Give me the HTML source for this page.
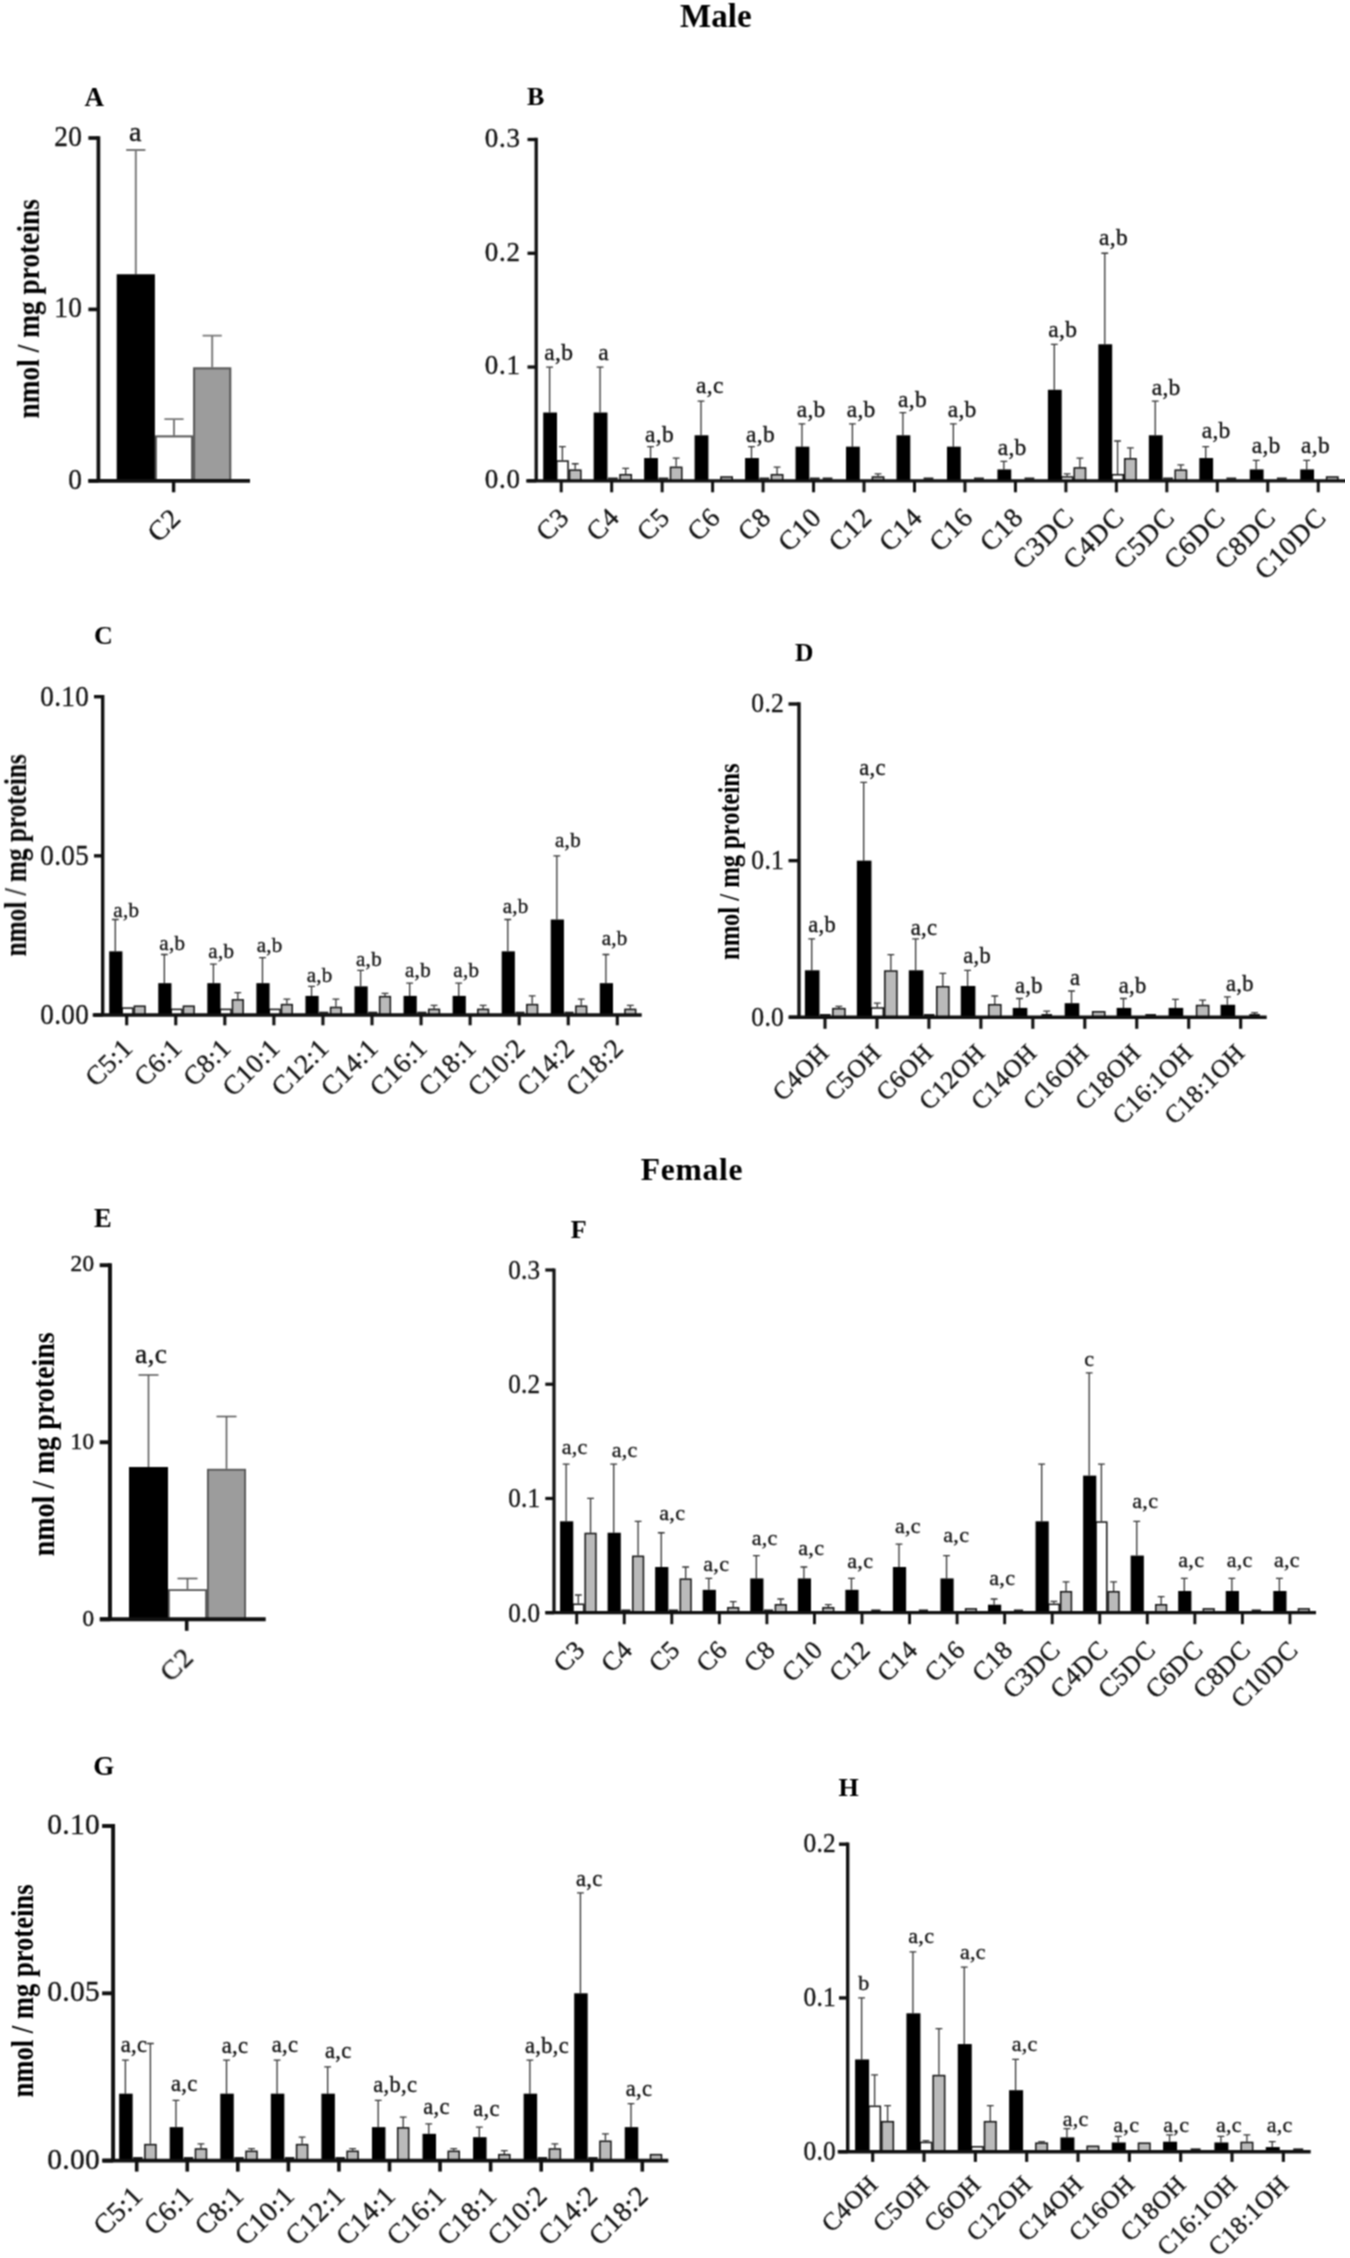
<!DOCTYPE html>
<html lang="en">
<head>
<meta charset="utf-8">
<title>Acylcarnitine profiles - Male / Female</title>
<style>
html,body{margin:0;padding:0;background:#fff;}
body{width:1350px;height:2258px;overflow:hidden;font-family:"Liberation Serif","DejaVu Serif",serif;}
svg{display:block;}
svg text{white-space:pre;}
</style>
</head>
<body>
<svg width="1350" height="2258" viewBox="0 0 1350 2258" font-family="'Liberation Serif', 'DejaVu Serif', serif">
<defs><filter id="soft" x="0" y="0" width="100%" height="100%" color-interpolation-filters="sRGB"><feConvolveMatrix order="3" kernelMatrix="1 2 1 2 4 2 1 2 1" divisor="16" edgeMode="duplicate" preserveAlpha="false"/></filter></defs>
<rect width="1350" height="2258" fill="#fff"/>
<g filter="url(#soft)">
<text x="715.8" y="26.7" font-size="33" text-anchor="middle" font-weight="bold" fill="#000">Male</text>
<text x="692" y="1179.7" font-size="31.5" text-anchor="middle" font-weight="bold" fill="#000" letter-spacing="0.8">Female</text>
<g>
<text x="84.5" y="105.5" font-size="27" text-anchor="start" font-weight="bold" fill="#000">A</text>
<text x="38.5" y="418.6" font-size="31.5" text-anchor="start" font-weight="bold" transform="rotate(-90 38.5 418.6)" fill="#000" textLength="219.5" lengthAdjust="spacingAndGlyphs">nmol / mg proteins</text>
<path d="M174 435.38V419.1M164.4 419.1H183.6" stroke="#777" stroke-width="1.9" fill="none"/>
<rect x="155.9" y="436.38" width="36.2" height="44.42" fill="#fff" stroke="#555" stroke-width="2"/>
<path d="M212.2 367.33V335.62M202.6 335.62H221.8" stroke="#777" stroke-width="1.9" fill="none"/>
<rect x="194.1" y="368.33" width="36.2" height="112.47" fill="#9c9c9c" stroke="#555" stroke-width="2"/>
<path d="M135.8 274.26V150M126.2 150H145.4" stroke="#777" stroke-width="1.9" fill="none"/>
<rect x="116.7" y="274.26" width="38.2" height="206.54" fill="#000"/>
<text x="129" y="140.5" font-size="28" text-anchor="start" fill="#141414" letter-spacing="0.3" stroke="#141414" stroke-width="0.35">a</text>
<path d="M98.4 136.15V482.65M88.4 480.8H250" stroke="#111" stroke-width="3.7" fill="none"/>
<path d="M88.4 480.8H98.4" stroke="#111" stroke-width="3.7"/>
<text x="0" y="0" font-size="28.8" text-anchor="end" fill="#141414" letter-spacing="0.2" transform="translate(82.1 488.58) scale(0.95 1)" stroke="#141414" stroke-width="0.35">0</text>
<path d="M88.4 309.4H98.4" stroke="#111" stroke-width="3.7"/>
<text x="0" y="0" font-size="28.8" text-anchor="end" fill="#141414" letter-spacing="0.2" transform="translate(82.1 317.18) scale(0.95 1)" stroke="#141414" stroke-width="0.35">10</text>
<path d="M88.4 138H98.4" stroke="#111" stroke-width="3.7"/>
<text x="0" y="0" font-size="28.8" text-anchor="end" fill="#141414" letter-spacing="0.2" transform="translate(82.1 145.78) scale(0.95 1)" stroke="#141414" stroke-width="0.35">20</text>
<path d="M173.6 480.8V492.3" stroke="#111" stroke-width="3.4"/>
<text x="182.3" y="519.7" font-size="27.8" text-anchor="end" transform="rotate(-45 182.3 519.7)" fill="#141414" letter-spacing="0.6" stroke="#141414" stroke-width="0.35">C2</text>
</g>
<g>
<text x="527" y="105" font-size="26" text-anchor="start" font-weight="bold" fill="#000">B</text>
<path d="M562.4 460.32V446.67M559 446.67H565.8" stroke="#333" stroke-width="1.3" fill="none"/>
<rect x="556.75" y="461.07" width="11.3" height="19.73" fill="#fff" stroke="#111" stroke-width="1.5"/>
<path d="M575.2 469.42V463.74M571.8 463.74H578.6" stroke="#333" stroke-width="1.3" fill="none"/>
<rect x="569.55" y="470.17" width="11.3" height="10.63" fill="#bababa" stroke="#111" stroke-width="1.5"/>
<path d="M549.6 412.54V367.03M546.2 367.03H553" stroke="#333" stroke-width="1.3" fill="none"/>
<rect x="543.2" y="412.54" width="13.8" height="68.26" fill="#000"/>
<text x="544.3" y="360" font-size="23.5" text-anchor="start" fill="#141414" letter-spacing="0.3" stroke="#141414" stroke-width="0.35">a,b</text>
<rect x="607.97" y="477.55" width="9.8" height="2" fill="#1a1a1a"/>
<path d="M625.67 473.97V468.29M622.27 468.29H629.07" stroke="#333" stroke-width="1.3" fill="none"/>
<rect x="620.02" y="474.72" width="11.3" height="6.08" fill="#bababa" stroke="#111" stroke-width="1.5"/>
<path d="M600.07 412.54V367.03M596.67 367.03H603.47" stroke="#333" stroke-width="1.3" fill="none"/>
<rect x="593.67" y="412.54" width="13.8" height="68.26" fill="#000"/>
<text x="598.3" y="360" font-size="23.5" text-anchor="start" fill="#141414" letter-spacing="0.3" stroke="#141414" stroke-width="0.35">a</text>
<rect x="658.44" y="477.55" width="9.8" height="2" fill="#1a1a1a"/>
<path d="M676.14 466.58V458.05M672.74 458.05H679.54" stroke="#333" stroke-width="1.3" fill="none"/>
<rect x="670.49" y="467.33" width="11.3" height="13.47" fill="#bababa" stroke="#111" stroke-width="1.5"/>
<path d="M650.54 458.05V446.67M647.14 446.67H653.94" stroke="#333" stroke-width="1.3" fill="none"/>
<rect x="644.14" y="458.05" width="13.8" height="22.75" fill="#000"/>
<text x="645" y="441.7" font-size="23.5" text-anchor="start" fill="#141414" letter-spacing="0.3" stroke="#141414" stroke-width="0.35">a,b</text>
<rect x="720.96" y="477" width="11.3" height="3.8" fill="#bababa" stroke="#111" stroke-width="1.5"/>
<path d="M701.01 435.29V401.16M697.61 401.16H704.41" stroke="#333" stroke-width="1.3" fill="none"/>
<rect x="694.61" y="435.29" width="13.8" height="45.51" fill="#000"/>
<text x="696" y="393.3" font-size="23.5" text-anchor="start" fill="#141414" letter-spacing="0.3" stroke="#141414" stroke-width="0.35">a,c</text>
<rect x="759.38" y="477.55" width="9.8" height="2" fill="#1a1a1a"/>
<path d="M777.08 473.97V467.15M773.68 467.15H780.48" stroke="#333" stroke-width="1.3" fill="none"/>
<rect x="771.43" y="474.72" width="11.3" height="6.08" fill="#bababa" stroke="#111" stroke-width="1.5"/>
<path d="M751.48 458.05V446.67M748.08 446.67H754.88" stroke="#333" stroke-width="1.3" fill="none"/>
<rect x="745.08" y="458.05" width="13.8" height="22.75" fill="#000"/>
<text x="746" y="441.7" font-size="23.5" text-anchor="start" fill="#141414" letter-spacing="0.3" stroke="#141414" stroke-width="0.35">a,b</text>
<rect x="809.85" y="477.55" width="9.8" height="2" fill="#1a1a1a"/>
<rect x="822.65" y="477.55" width="9.8" height="2" fill="#1a1a1a"/>
<path d="M801.95 446.67V423.92M798.55 423.92H805.35" stroke="#333" stroke-width="1.3" fill="none"/>
<rect x="795.55" y="446.67" width="13.8" height="34.13" fill="#000"/>
<text x="796.7" y="416.7" font-size="23.5" text-anchor="start" fill="#141414" letter-spacing="0.3" stroke="#141414" stroke-width="0.35">a,b</text>
<path d="M878.02 476.25V473.97M874.62 473.97H881.42" stroke="#333" stroke-width="1.3" fill="none"/>
<rect x="872.37" y="477" width="11.3" height="3.8" fill="#bababa" stroke="#111" stroke-width="1.5"/>
<path d="M852.42 446.67V423.92M849.02 423.92H855.82" stroke="#333" stroke-width="1.3" fill="none"/>
<rect x="846.02" y="446.67" width="13.8" height="34.13" fill="#000"/>
<text x="846.7" y="416.7" font-size="23.5" text-anchor="start" fill="#141414" letter-spacing="0.3" stroke="#141414" stroke-width="0.35">a,b</text>
<rect x="923.59" y="477.55" width="9.8" height="2" fill="#1a1a1a"/>
<path d="M902.89 435.29V412.54M899.49 412.54H906.29" stroke="#333" stroke-width="1.3" fill="none"/>
<rect x="896.49" y="435.29" width="13.8" height="45.51" fill="#000"/>
<text x="898" y="406.7" font-size="23.5" text-anchor="start" fill="#141414" letter-spacing="0.3" stroke="#141414" stroke-width="0.35">a,b</text>
<rect x="974.06" y="477.55" width="9.8" height="2" fill="#1a1a1a"/>
<path d="M953.36 446.67V423.92M949.96 423.92H956.76" stroke="#333" stroke-width="1.3" fill="none"/>
<rect x="946.96" y="446.67" width="13.8" height="34.13" fill="#000"/>
<text x="947.7" y="416.7" font-size="23.5" text-anchor="start" fill="#141414" letter-spacing="0.3" stroke="#141414" stroke-width="0.35">a,b</text>
<rect x="1024.53" y="477.55" width="9.8" height="2" fill="#1a1a1a"/>
<path d="M1003.83 469.42V461.46M1000.43 461.46H1007.23" stroke="#333" stroke-width="1.3" fill="none"/>
<rect x="997.43" y="469.42" width="13.8" height="11.38" fill="#000"/>
<text x="997.7" y="455" font-size="23.5" text-anchor="start" fill="#141414" letter-spacing="0.3" stroke="#141414" stroke-width="0.35">a,b</text>
<path d="M1067.1 476.25V473.97M1063.7 473.97H1070.5" stroke="#333" stroke-width="1.3" fill="none"/>
<rect x="1061.45" y="477" width="11.3" height="3.8" fill="#fff" stroke="#111" stroke-width="1.5"/>
<path d="M1079.9 467.15V458.05M1076.5 458.05H1083.3" stroke="#333" stroke-width="1.3" fill="none"/>
<rect x="1074.25" y="467.9" width="11.3" height="12.9" fill="#bababa" stroke="#111" stroke-width="1.5"/>
<path d="M1054.3 389.79V344.28M1050.9 344.28H1057.7" stroke="#333" stroke-width="1.3" fill="none"/>
<rect x="1047.9" y="389.79" width="13.8" height="91.01" fill="#000"/>
<text x="1048.3" y="336.7" font-size="23.5" text-anchor="start" fill="#141414" letter-spacing="0.3" stroke="#141414" stroke-width="0.35">a,b</text>
<path d="M1117.57 473.97V440.98M1114.17 440.98H1120.97" stroke="#333" stroke-width="1.3" fill="none"/>
<rect x="1111.92" y="474.72" width="11.3" height="6.08" fill="#fff" stroke="#111" stroke-width="1.5"/>
<path d="M1130.37 458.05V447.81M1126.97 447.81H1133.77" stroke="#333" stroke-width="1.3" fill="none"/>
<rect x="1124.72" y="458.8" width="11.3" height="22" fill="#bababa" stroke="#111" stroke-width="1.5"/>
<path d="M1104.77 344.28V253.27M1101.37 253.27H1108.17" stroke="#333" stroke-width="1.3" fill="none"/>
<rect x="1098.37" y="344.28" width="13.8" height="136.52" fill="#000"/>
<text x="1099" y="245" font-size="23.5" text-anchor="start" fill="#141414" letter-spacing="0.3" stroke="#141414" stroke-width="0.35">a,b</text>
<rect x="1163.14" y="477.55" width="9.8" height="2" fill="#1a1a1a"/>
<path d="M1180.84 469.42V464.87M1177.44 464.87H1184.24" stroke="#333" stroke-width="1.3" fill="none"/>
<rect x="1175.19" y="470.17" width="11.3" height="10.63" fill="#bababa" stroke="#111" stroke-width="1.5"/>
<path d="M1155.24 435.29V401.16M1151.84 401.16H1158.64" stroke="#333" stroke-width="1.3" fill="none"/>
<rect x="1148.84" y="435.29" width="13.8" height="45.51" fill="#000"/>
<text x="1151.7" y="395" font-size="23.5" text-anchor="start" fill="#141414" letter-spacing="0.3" stroke="#141414" stroke-width="0.35">a,b</text>
<rect x="1226.41" y="477.55" width="9.8" height="2" fill="#1a1a1a"/>
<path d="M1205.71 458.05V446.67M1202.31 446.67H1209.11" stroke="#333" stroke-width="1.3" fill="none"/>
<rect x="1199.31" y="458.05" width="13.8" height="22.75" fill="#000"/>
<text x="1201.7" y="438.3" font-size="23.5" text-anchor="start" fill="#141414" letter-spacing="0.3" stroke="#141414" stroke-width="0.35">a,b</text>
<rect x="1276.88" y="477.55" width="9.8" height="2" fill="#1a1a1a"/>
<path d="M1256.18 469.42V460.32M1252.78 460.32H1259.58" stroke="#333" stroke-width="1.3" fill="none"/>
<rect x="1249.78" y="469.42" width="13.8" height="11.38" fill="#000"/>
<text x="1251.7" y="453.3" font-size="23.5" text-anchor="start" fill="#141414" letter-spacing="0.3" stroke="#141414" stroke-width="0.35">a,b</text>
<rect x="1326.6" y="477" width="11.3" height="3.8" fill="#bababa" stroke="#111" stroke-width="1.5"/>
<path d="M1306.65 469.42V460.32M1303.25 460.32H1310.05" stroke="#333" stroke-width="1.3" fill="none"/>
<rect x="1300.25" y="469.42" width="13.8" height="11.38" fill="#000"/>
<text x="1301" y="453.3" font-size="23.5" text-anchor="start" fill="#141414" letter-spacing="0.3" stroke="#141414" stroke-width="0.35">a,b</text>
<path d="M536.2 137.85V482.45M526.2 480.8H1345" stroke="#111" stroke-width="3.3" fill="none"/>
<path d="M527.5 480.8H536.2" stroke="#111" stroke-width="3.3"/>
<text x="520.8" y="488.09" font-size="27" text-anchor="end" fill="#141414" letter-spacing="0.8" stroke="#141414" stroke-width="0.35">0.0</text>
<path d="M527.5 367.03H536.2" stroke="#111" stroke-width="3.3"/>
<text x="520.8" y="374.32" font-size="27" text-anchor="end" fill="#141414" letter-spacing="0.8" stroke="#141414" stroke-width="0.35">0.1</text>
<path d="M527.5 253.27H536.2" stroke="#111" stroke-width="3.3"/>
<text x="520.8" y="260.56" font-size="27" text-anchor="end" fill="#141414" letter-spacing="0.8" stroke="#141414" stroke-width="0.35">0.2</text>
<path d="M527.5 139.5H536.2" stroke="#111" stroke-width="3.3"/>
<text x="520.8" y="146.79" font-size="27" text-anchor="end" fill="#141414" letter-spacing="0.8" stroke="#141414" stroke-width="0.35">0.3</text>
<path d="M561.2 480.8V492.3" stroke="#111" stroke-width="3"/>
<text x="570.7" y="518.8" font-size="27.3" text-anchor="end" transform="rotate(-45 570.7 518.8)" fill="#141414" letter-spacing="0.9" stroke="#141414" stroke-width="0.35">C3</text>
<path d="M611.67 480.8V492.3" stroke="#111" stroke-width="3"/>
<text x="621.17" y="518.8" font-size="27.3" text-anchor="end" transform="rotate(-45 621.17 518.8)" fill="#141414" letter-spacing="0.9" stroke="#141414" stroke-width="0.35">C4</text>
<path d="M662.14 480.8V492.3" stroke="#111" stroke-width="3"/>
<text x="671.64" y="518.8" font-size="27.3" text-anchor="end" transform="rotate(-45 671.64 518.8)" fill="#141414" letter-spacing="0.9" stroke="#141414" stroke-width="0.35">C5</text>
<path d="M712.61 480.8V492.3" stroke="#111" stroke-width="3"/>
<text x="722.11" y="518.8" font-size="27.3" text-anchor="end" transform="rotate(-45 722.11 518.8)" fill="#141414" letter-spacing="0.9" stroke="#141414" stroke-width="0.35">C6</text>
<path d="M763.08 480.8V492.3" stroke="#111" stroke-width="3"/>
<text x="772.58" y="518.8" font-size="27.3" text-anchor="end" transform="rotate(-45 772.58 518.8)" fill="#141414" letter-spacing="0.9" stroke="#141414" stroke-width="0.35">C8</text>
<path d="M813.55 480.8V492.3" stroke="#111" stroke-width="3"/>
<text x="823.05" y="518.8" font-size="27.3" text-anchor="end" transform="rotate(-45 823.05 518.8)" fill="#141414" letter-spacing="0.9" stroke="#141414" stroke-width="0.35">C10</text>
<path d="M864.02 480.8V492.3" stroke="#111" stroke-width="3"/>
<text x="873.52" y="518.8" font-size="27.3" text-anchor="end" transform="rotate(-45 873.52 518.8)" fill="#141414" letter-spacing="0.9" stroke="#141414" stroke-width="0.35">C12</text>
<path d="M914.49 480.8V492.3" stroke="#111" stroke-width="3"/>
<text x="923.99" y="518.8" font-size="27.3" text-anchor="end" transform="rotate(-45 923.99 518.8)" fill="#141414" letter-spacing="0.9" stroke="#141414" stroke-width="0.35">C14</text>
<path d="M964.96 480.8V492.3" stroke="#111" stroke-width="3"/>
<text x="974.46" y="518.8" font-size="27.3" text-anchor="end" transform="rotate(-45 974.46 518.8)" fill="#141414" letter-spacing="0.9" stroke="#141414" stroke-width="0.35">C16</text>
<path d="M1015.43 480.8V492.3" stroke="#111" stroke-width="3"/>
<text x="1024.93" y="518.8" font-size="27.3" text-anchor="end" transform="rotate(-45 1024.93 518.8)" fill="#141414" letter-spacing="0.9" stroke="#141414" stroke-width="0.35">C18</text>
<path d="M1065.9 480.8V492.3" stroke="#111" stroke-width="3"/>
<text x="1075.4" y="518.8" font-size="27.3" text-anchor="end" transform="rotate(-45 1075.4 518.8)" fill="#141414" letter-spacing="0.9" stroke="#141414" stroke-width="0.35">C3DC</text>
<path d="M1116.37 480.8V492.3" stroke="#111" stroke-width="3"/>
<text x="1125.87" y="518.8" font-size="27.3" text-anchor="end" transform="rotate(-45 1125.87 518.8)" fill="#141414" letter-spacing="0.9" stroke="#141414" stroke-width="0.35">C4DC</text>
<path d="M1166.84 480.8V492.3" stroke="#111" stroke-width="3"/>
<text x="1176.34" y="518.8" font-size="27.3" text-anchor="end" transform="rotate(-45 1176.34 518.8)" fill="#141414" letter-spacing="0.9" stroke="#141414" stroke-width="0.35">C5DC</text>
<path d="M1217.31 480.8V492.3" stroke="#111" stroke-width="3"/>
<text x="1226.81" y="518.8" font-size="27.3" text-anchor="end" transform="rotate(-45 1226.81 518.8)" fill="#141414" letter-spacing="0.9" stroke="#141414" stroke-width="0.35">C6DC</text>
<path d="M1267.78 480.8V492.3" stroke="#111" stroke-width="3"/>
<text x="1277.28" y="518.8" font-size="27.3" text-anchor="end" transform="rotate(-45 1277.28 518.8)" fill="#141414" letter-spacing="0.9" stroke="#141414" stroke-width="0.35">C8DC</text>
<path d="M1318.25 480.8V492.3" stroke="#111" stroke-width="3"/>
<text x="1327.75" y="518.8" font-size="27.3" text-anchor="end" transform="rotate(-45 1327.75 518.8)" fill="#141414" letter-spacing="0.9" stroke="#141414" stroke-width="0.35">C10DC</text>
</g>
<g>
<text x="94" y="644" font-size="26" text-anchor="start" font-weight="bold" fill="#000">C</text>
<text x="26.3" y="956.3" font-size="31" text-anchor="start" font-weight="bold" transform="rotate(-90 26.3 956.3)" fill="#000" textLength="202" lengthAdjust="spacingAndGlyphs">nmol / mg proteins</text>
<rect x="122.15" y="1008.11" width="10.7" height="6.89" fill="#fff" stroke="#111" stroke-width="1.5"/>
<rect x="134.35" y="1006.2" width="10.7" height="8.8" fill="#bababa" stroke="#111" stroke-width="1.5"/>
<path d="M115.3 951.34V919.51M111.9 919.51H118.7" stroke="#333" stroke-width="1.3" fill="none"/>
<rect x="109.2" y="951.34" width="13.2" height="63.66" fill="#000"/>
<text x="113.3" y="916.7" font-size="21" text-anchor="start" fill="#141414" letter-spacing="0.3" stroke="#141414" stroke-width="0.35">a,b</text>
<rect x="171.21" y="1009.38" width="10.7" height="5.62" fill="#fff" stroke="#111" stroke-width="1.5"/>
<rect x="183.41" y="1006.2" width="10.7" height="8.8" fill="#bababa" stroke="#111" stroke-width="1.5"/>
<path d="M164.36 983.17V954.52M160.96 954.52H167.76" stroke="#333" stroke-width="1.3" fill="none"/>
<rect x="158.26" y="983.17" width="13.2" height="31.83" fill="#000"/>
<text x="159.3" y="950" font-size="21" text-anchor="start" fill="#141414" letter-spacing="0.3" stroke="#141414" stroke-width="0.35">a,b</text>
<rect x="220.27" y="1009.38" width="10.7" height="5.62" fill="#fff" stroke="#111" stroke-width="1.5"/>
<path d="M237.82 999.09V992.72M234.42 992.72H241.22" stroke="#333" stroke-width="1.3" fill="none"/>
<rect x="232.47" y="999.84" width="10.7" height="15.16" fill="#bababa" stroke="#111" stroke-width="1.5"/>
<path d="M213.42 983.17V964.07M210.02 964.07H216.82" stroke="#333" stroke-width="1.3" fill="none"/>
<rect x="207.32" y="983.17" width="13.2" height="31.83" fill="#000"/>
<text x="208.3" y="958.3" font-size="21" text-anchor="start" fill="#141414" letter-spacing="0.3" stroke="#141414" stroke-width="0.35">a,b</text>
<rect x="269.33" y="1009.38" width="10.7" height="5.62" fill="#fff" stroke="#111" stroke-width="1.5"/>
<path d="M286.88 1003.86V999.09M283.48 999.09H290.28" stroke="#333" stroke-width="1.3" fill="none"/>
<rect x="281.53" y="1004.61" width="10.7" height="10.39" fill="#bababa" stroke="#111" stroke-width="1.5"/>
<path d="M262.48 983.17V957.71M259.08 957.71H265.88" stroke="#333" stroke-width="1.3" fill="none"/>
<rect x="256.38" y="983.17" width="13.2" height="31.83" fill="#000"/>
<text x="256.7" y="952.3" font-size="21" text-anchor="start" fill="#141414" letter-spacing="0.3" stroke="#141414" stroke-width="0.35">a,b</text>
<rect x="319.14" y="1011.7" width="9.2" height="2" fill="#1a1a1a"/>
<path d="M335.94 1006.72V999.09M332.54 999.09H339.34" stroke="#333" stroke-width="1.3" fill="none"/>
<rect x="330.59" y="1007.47" width="10.7" height="7.53" fill="#bababa" stroke="#111" stroke-width="1.5"/>
<path d="M311.54 995.9V986.35M308.14 986.35H314.94" stroke="#333" stroke-width="1.3" fill="none"/>
<rect x="305.44" y="995.9" width="13.2" height="19.1" fill="#000"/>
<text x="306.7" y="981.7" font-size="21" text-anchor="start" fill="#141414" letter-spacing="0.3" stroke="#141414" stroke-width="0.35">a,b</text>
<rect x="368.2" y="1011.7" width="9.2" height="2" fill="#1a1a1a"/>
<path d="M385 995.9V993.36M381.6 993.36H388.4" stroke="#333" stroke-width="1.3" fill="none"/>
<rect x="379.65" y="996.65" width="10.7" height="18.35" fill="#bababa" stroke="#111" stroke-width="1.5"/>
<path d="M360.6 986.35V970.44M357.2 970.44H364" stroke="#333" stroke-width="1.3" fill="none"/>
<rect x="354.5" y="986.35" width="13.2" height="28.65" fill="#000"/>
<text x="356" y="966" font-size="21" text-anchor="start" fill="#141414" letter-spacing="0.3" stroke="#141414" stroke-width="0.35">a,b</text>
<rect x="417.26" y="1011.7" width="9.2" height="2" fill="#1a1a1a"/>
<path d="M434.06 1008.63V1005.45M430.66 1005.45H437.46" stroke="#333" stroke-width="1.3" fill="none"/>
<rect x="428.71" y="1009.38" width="10.7" height="5.62" fill="#bababa" stroke="#111" stroke-width="1.5"/>
<path d="M409.66 995.9V983.17M406.26 983.17H413.06" stroke="#333" stroke-width="1.3" fill="none"/>
<rect x="403.56" y="995.9" width="13.2" height="19.1" fill="#000"/>
<text x="405" y="976.7" font-size="21" text-anchor="start" fill="#141414" letter-spacing="0.3" stroke="#141414" stroke-width="0.35">a,b</text>
<path d="M483.12 1008.63V1005.45M479.72 1005.45H486.52" stroke="#333" stroke-width="1.3" fill="none"/>
<rect x="477.77" y="1009.38" width="10.7" height="5.62" fill="#bababa" stroke="#111" stroke-width="1.5"/>
<path d="M458.72 995.9V983.17M455.32 983.17H462.12" stroke="#333" stroke-width="1.3" fill="none"/>
<rect x="452.62" y="995.9" width="13.2" height="19.1" fill="#000"/>
<text x="453.3" y="976.7" font-size="21" text-anchor="start" fill="#141414" letter-spacing="0.3" stroke="#141414" stroke-width="0.35">a,b</text>
<rect x="515.38" y="1011.7" width="9.2" height="2" fill="#1a1a1a"/>
<path d="M532.18 1003.86V995.9M528.78 995.9H535.58" stroke="#333" stroke-width="1.3" fill="none"/>
<rect x="526.83" y="1004.61" width="10.7" height="10.39" fill="#bababa" stroke="#111" stroke-width="1.5"/>
<path d="M507.78 951.34V919.51M504.38 919.51H511.18" stroke="#333" stroke-width="1.3" fill="none"/>
<rect x="501.68" y="951.34" width="13.2" height="63.66" fill="#000"/>
<text x="502.7" y="912.7" font-size="21" text-anchor="start" fill="#141414" letter-spacing="0.3" stroke="#141414" stroke-width="0.35">a,b</text>
<rect x="564.44" y="1011.7" width="9.2" height="2" fill="#1a1a1a"/>
<path d="M581.24 1005.45V999.09M577.84 999.09H584.64" stroke="#333" stroke-width="1.3" fill="none"/>
<rect x="575.89" y="1006.2" width="10.7" height="8.8" fill="#bababa" stroke="#111" stroke-width="1.5"/>
<path d="M556.84 919.51V855.85M553.44 855.85H560.24" stroke="#333" stroke-width="1.3" fill="none"/>
<rect x="550.74" y="919.51" width="13.2" height="95.49" fill="#000"/>
<text x="555" y="846.7" font-size="21" text-anchor="start" fill="#141414" letter-spacing="0.3" stroke="#141414" stroke-width="0.35">a,b</text>
<path d="M630.3 1008.63V1005.45M626.9 1005.45H633.7" stroke="#333" stroke-width="1.3" fill="none"/>
<rect x="624.95" y="1009.38" width="10.7" height="5.62" fill="#bababa" stroke="#111" stroke-width="1.5"/>
<path d="M605.9 983.17V954.52M602.5 954.52H609.3" stroke="#333" stroke-width="1.3" fill="none"/>
<rect x="599.8" y="983.17" width="13.2" height="31.83" fill="#000"/>
<text x="601.7" y="945" font-size="21" text-anchor="start" fill="#141414" letter-spacing="0.3" stroke="#141414" stroke-width="0.35">a,b</text>
<path d="M102.7 695V1016.7M92.7 1015H641.7" stroke="#111" stroke-width="3.4" fill="none"/>
<path d="M94 1015H102.7" stroke="#111" stroke-width="3.4"/>
<text x="0" y="0" font-size="28.6" text-anchor="end" fill="#141414" letter-spacing="0.3" transform="translate(89 1024.3) scale(0.95 1)" stroke="#141414" stroke-width="0.35">0.00</text>
<path d="M94 855.85H102.7" stroke="#111" stroke-width="3.4"/>
<text x="0" y="0" font-size="28.6" text-anchor="end" fill="#141414" letter-spacing="0.3" transform="translate(89 865.15) scale(0.95 1)" stroke="#141414" stroke-width="0.35">0.05</text>
<path d="M94 696.7H102.7" stroke="#111" stroke-width="3.4"/>
<text x="0" y="0" font-size="28.6" text-anchor="end" fill="#141414" letter-spacing="0.3" transform="translate(89 706) scale(0.95 1)" stroke="#141414" stroke-width="0.35">0.10</text>
<path d="M126.7 1015V1025.3" stroke="#111" stroke-width="3.1"/>
<text x="134.2" y="1049.6" font-size="27" text-anchor="end" transform="rotate(-45 134.2 1049.6)" fill="#141414" letter-spacing="0.4" stroke="#141414" stroke-width="0.35">C5:1</text>
<path d="M175.76 1015V1025.3" stroke="#111" stroke-width="3.1"/>
<text x="183.26" y="1049.6" font-size="27" text-anchor="end" transform="rotate(-45 183.26 1049.6)" fill="#141414" letter-spacing="0.4" stroke="#141414" stroke-width="0.35">C6:1</text>
<path d="M224.82 1015V1025.3" stroke="#111" stroke-width="3.1"/>
<text x="232.32" y="1049.6" font-size="27" text-anchor="end" transform="rotate(-45 232.32 1049.6)" fill="#141414" letter-spacing="0.4" stroke="#141414" stroke-width="0.35">C8:1</text>
<path d="M273.88 1015V1025.3" stroke="#111" stroke-width="3.1"/>
<text x="281.38" y="1049.6" font-size="27" text-anchor="end" transform="rotate(-45 281.38 1049.6)" fill="#141414" letter-spacing="0.4" stroke="#141414" stroke-width="0.35">C10:1</text>
<path d="M322.94 1015V1025.3" stroke="#111" stroke-width="3.1"/>
<text x="330.44" y="1049.6" font-size="27" text-anchor="end" transform="rotate(-45 330.44 1049.6)" fill="#141414" letter-spacing="0.4" stroke="#141414" stroke-width="0.35">C12:1</text>
<path d="M372 1015V1025.3" stroke="#111" stroke-width="3.1"/>
<text x="379.5" y="1049.6" font-size="27" text-anchor="end" transform="rotate(-45 379.5 1049.6)" fill="#141414" letter-spacing="0.4" stroke="#141414" stroke-width="0.35">C14:1</text>
<path d="M421.06 1015V1025.3" stroke="#111" stroke-width="3.1"/>
<text x="428.56" y="1049.6" font-size="27" text-anchor="end" transform="rotate(-45 428.56 1049.6)" fill="#141414" letter-spacing="0.4" stroke="#141414" stroke-width="0.35">C16:1</text>
<path d="M470.12 1015V1025.3" stroke="#111" stroke-width="3.1"/>
<text x="477.62" y="1049.6" font-size="27" text-anchor="end" transform="rotate(-45 477.62 1049.6)" fill="#141414" letter-spacing="0.4" stroke="#141414" stroke-width="0.35">C18:1</text>
<path d="M519.18 1015V1025.3" stroke="#111" stroke-width="3.1"/>
<text x="526.68" y="1049.6" font-size="27" text-anchor="end" transform="rotate(-45 526.68 1049.6)" fill="#141414" letter-spacing="0.4" stroke="#141414" stroke-width="0.35">C10:2</text>
<path d="M568.24 1015V1025.3" stroke="#111" stroke-width="3.1"/>
<text x="575.74" y="1049.6" font-size="27" text-anchor="end" transform="rotate(-45 575.74 1049.6)" fill="#141414" letter-spacing="0.4" stroke="#141414" stroke-width="0.35">C14:2</text>
<path d="M617.3 1015V1025.3" stroke="#111" stroke-width="3.1"/>
<text x="624.8" y="1049.6" font-size="27" text-anchor="end" transform="rotate(-45 624.8 1049.6)" fill="#141414" letter-spacing="0.4" stroke="#141414" stroke-width="0.35">C18:2</text>
</g>
<g>
<text x="795" y="660.5" font-size="25.5" text-anchor="start" font-weight="bold" fill="#000">D</text>
<text x="738.9" y="960" font-size="29" text-anchor="start" font-weight="bold" transform="rotate(-90 738.9 960)" fill="#000" textLength="196.5" lengthAdjust="spacingAndGlyphs">nmol / mg proteins</text>
<rect x="820" y="1014" width="10.6" height="2" fill="#1a1a1a"/>
<path d="M838.9 1007.9V1006.33M835.5 1006.33H842.3" stroke="#333" stroke-width="1.3" fill="none"/>
<rect x="832.85" y="1008.65" width="12.1" height="8.65" fill="#bababa" stroke="#111" stroke-width="1.5"/>
<path d="M811.7 970.3V938.97M808.3 938.97H815.1" stroke="#333" stroke-width="1.3" fill="none"/>
<rect x="804.9" y="970.3" width="14.6" height="47" fill="#000"/>
<text x="808.3" y="931.7" font-size="22.5" text-anchor="start" fill="#141414" letter-spacing="0.3" stroke="#141414" stroke-width="0.35">a,b</text>
<path d="M877.26 1007.27V1003.2M873.86 1003.2H880.66" stroke="#333" stroke-width="1.3" fill="none"/>
<rect x="871.21" y="1008.02" width="12.1" height="9.28" fill="#fff" stroke="#111" stroke-width="1.5"/>
<path d="M890.86 970.3V954.64M887.46 954.64H894.26" stroke="#333" stroke-width="1.3" fill="none"/>
<rect x="884.81" y="971.05" width="12.1" height="46.25" fill="#bababa" stroke="#111" stroke-width="1.5"/>
<path d="M863.66 860.65V782.33M860.26 782.33H867.06" stroke="#333" stroke-width="1.3" fill="none"/>
<rect x="856.86" y="860.65" width="14.6" height="156.65" fill="#000"/>
<text x="859.3" y="775" font-size="22.5" text-anchor="start" fill="#141414" letter-spacing="0.3" stroke="#141414" stroke-width="0.35">a,c</text>
<rect x="923.92" y="1014" width="10.6" height="2" fill="#1a1a1a"/>
<path d="M942.82 985.97V973.44M939.42 973.44H946.22" stroke="#333" stroke-width="1.3" fill="none"/>
<rect x="936.77" y="986.72" width="12.1" height="30.58" fill="#bababa" stroke="#111" stroke-width="1.5"/>
<path d="M915.62 970.3V938.97M912.22 938.97H919.02" stroke="#333" stroke-width="1.3" fill="none"/>
<rect x="908.82" y="970.3" width="14.6" height="47" fill="#000"/>
<text x="910.7" y="935" font-size="22.5" text-anchor="start" fill="#141414" letter-spacing="0.3" stroke="#141414" stroke-width="0.35">a,c</text>
<path d="M994.78 1003.98V996M991.38 996H998.18" stroke="#333" stroke-width="1.3" fill="none"/>
<rect x="988.73" y="1004.73" width="12.1" height="12.57" fill="#bababa" stroke="#111" stroke-width="1.5"/>
<path d="M967.58 985.97V970.3M964.18 970.3H970.98" stroke="#333" stroke-width="1.3" fill="none"/>
<rect x="960.78" y="985.97" width="14.6" height="31.33" fill="#000"/>
<text x="963.3" y="963" font-size="22.5" text-anchor="start" fill="#141414" letter-spacing="0.3" stroke="#141414" stroke-width="0.35">a,b</text>
<path d="M1046.74 1014.17V1011.03M1043.34 1011.03H1050.14" stroke="#333" stroke-width="1.3" fill="none"/>
<rect x="1041.44" y="1014" width="10.6" height="2" fill="#1a1a1a"/>
<path d="M1019.54 1007.9V998.5M1016.14 998.5H1022.94" stroke="#333" stroke-width="1.3" fill="none"/>
<rect x="1012.74" y="1007.9" width="14.6" height="9.4" fill="#000"/>
<text x="1015" y="992.7" font-size="22.5" text-anchor="start" fill="#141414" letter-spacing="0.3" stroke="#141414" stroke-width="0.35">a,b</text>
<rect x="1092.65" y="1011.78" width="12.1" height="5.52" fill="#bababa" stroke="#111" stroke-width="1.5"/>
<path d="M1071.5 1003.2V990.98M1068.1 990.98H1074.9" stroke="#333" stroke-width="1.3" fill="none"/>
<rect x="1064.7" y="1003.2" width="14.6" height="14.1" fill="#000"/>
<text x="1070" y="985" font-size="22.5" text-anchor="start" fill="#141414" letter-spacing="0.3" stroke="#141414" stroke-width="0.35">a</text>
<rect x="1145.36" y="1014" width="10.6" height="2" fill="#1a1a1a"/>
<path d="M1123.46 1007.9V998.5M1120.06 998.5H1126.86" stroke="#333" stroke-width="1.3" fill="none"/>
<rect x="1116.66" y="1007.9" width="14.6" height="9.4" fill="#000"/>
<text x="1118.7" y="992.7" font-size="22.5" text-anchor="start" fill="#141414" letter-spacing="0.3" stroke="#141414" stroke-width="0.35">a,b</text>
<path d="M1202.62 1004.77V1000.07M1199.22 1000.07H1206.02" stroke="#333" stroke-width="1.3" fill="none"/>
<rect x="1196.57" y="1005.52" width="12.1" height="11.78" fill="#bababa" stroke="#111" stroke-width="1.5"/>
<path d="M1175.42 1007.9V999.29M1172.02 999.29H1178.82" stroke="#333" stroke-width="1.3" fill="none"/>
<rect x="1168.62" y="1007.9" width="14.6" height="9.4" fill="#000"/>
<path d="M1254.58 1014.17V1012.6M1251.18 1012.6H1257.98" stroke="#333" stroke-width="1.3" fill="none"/>
<rect x="1249.28" y="1014" width="10.6" height="2" fill="#1a1a1a"/>
<path d="M1227.38 1004.77V996.94M1223.98 996.94H1230.78" stroke="#333" stroke-width="1.3" fill="none"/>
<rect x="1220.58" y="1004.77" width="14.6" height="12.53" fill="#000"/>
<text x="1226" y="990.7" font-size="22.5" text-anchor="start" fill="#141414" letter-spacing="0.3" stroke="#141414" stroke-width="0.35">a,b</text>
<path d="M799 702.3V1019M789 1017.3H1266.7" stroke="#111" stroke-width="3.4" fill="none"/>
<path d="M788.5 1017.3H799" stroke="#111" stroke-width="3.4"/>
<text x="0" y="0" font-size="27" text-anchor="end" fill="#141414" letter-spacing="0.3" transform="translate(784.2 1025.6) scale(0.95 1)" stroke="#141414" stroke-width="0.35">0.0</text>
<path d="M788.5 860.65H799" stroke="#111" stroke-width="3.4"/>
<text x="0" y="0" font-size="27" text-anchor="end" fill="#141414" letter-spacing="0.3" transform="translate(784.2 868.95) scale(0.95 1)" stroke="#141414" stroke-width="0.35">0.1</text>
<path d="M788.5 704H799" stroke="#111" stroke-width="3.4"/>
<text x="0" y="0" font-size="27" text-anchor="end" fill="#141414" letter-spacing="0.3" transform="translate(784.2 712.3) scale(0.95 1)" stroke="#141414" stroke-width="0.35">0.2</text>
<path d="M825 1017.3V1028.8" stroke="#111" stroke-width="3.1"/>
<text x="830.5" y="1054.3" font-size="25.3" text-anchor="end" transform="rotate(-45 830.5 1054.3)" fill="#141414" letter-spacing="0.4" stroke="#141414" stroke-width="0.35">C4OH</text>
<path d="M876.96 1017.3V1028.8" stroke="#111" stroke-width="3.1"/>
<text x="882.46" y="1054.3" font-size="25.3" text-anchor="end" transform="rotate(-45 882.46 1054.3)" fill="#141414" letter-spacing="0.4" stroke="#141414" stroke-width="0.35">C5OH</text>
<path d="M928.92 1017.3V1028.8" stroke="#111" stroke-width="3.1"/>
<text x="934.42" y="1054.3" font-size="25.3" text-anchor="end" transform="rotate(-45 934.42 1054.3)" fill="#141414" letter-spacing="0.4" stroke="#141414" stroke-width="0.35">C6OH</text>
<path d="M980.88 1017.3V1028.8" stroke="#111" stroke-width="3.1"/>
<text x="986.38" y="1054.3" font-size="25.3" text-anchor="end" transform="rotate(-45 986.38 1054.3)" fill="#141414" letter-spacing="0.4" stroke="#141414" stroke-width="0.35">C12OH</text>
<path d="M1032.84 1017.3V1028.8" stroke="#111" stroke-width="3.1"/>
<text x="1038.34" y="1054.3" font-size="25.3" text-anchor="end" transform="rotate(-45 1038.34 1054.3)" fill="#141414" letter-spacing="0.4" stroke="#141414" stroke-width="0.35">C14OH</text>
<path d="M1084.8 1017.3V1028.8" stroke="#111" stroke-width="3.1"/>
<text x="1090.3" y="1054.3" font-size="25.3" text-anchor="end" transform="rotate(-45 1090.3 1054.3)" fill="#141414" letter-spacing="0.4" stroke="#141414" stroke-width="0.35">C16OH</text>
<path d="M1136.76 1017.3V1028.8" stroke="#111" stroke-width="3.1"/>
<text x="1142.26" y="1054.3" font-size="25.3" text-anchor="end" transform="rotate(-45 1142.26 1054.3)" fill="#141414" letter-spacing="0.4" stroke="#141414" stroke-width="0.35">C18OH</text>
<path d="M1188.72 1017.3V1028.8" stroke="#111" stroke-width="3.1"/>
<text x="1194.22" y="1054.3" font-size="25.3" text-anchor="end" transform="rotate(-45 1194.22 1054.3)" fill="#141414" letter-spacing="0.4" stroke="#141414" stroke-width="0.35">C16:1OH</text>
<path d="M1240.68 1017.3V1028.8" stroke="#111" stroke-width="3.1"/>
<text x="1246.18" y="1054.3" font-size="25.3" text-anchor="end" transform="rotate(-45 1246.18 1054.3)" fill="#141414" letter-spacing="0.4" stroke="#141414" stroke-width="0.35">C18:1OH</text>
</g>
<g>
<text x="94" y="1227.3" font-size="26.5" text-anchor="start" font-weight="bold" fill="#000">E</text>
<text x="54.4" y="1556.3" font-size="31.5" text-anchor="start" font-weight="bold" transform="rotate(-90 54.4 1556.3)" fill="#000" textLength="224" lengthAdjust="spacingAndGlyphs">nmol / mg proteins</text>
<path d="M187.5 1589.2V1578.58M177.5 1578.58H197.5" stroke="#555" stroke-width="1.5" fill="none"/>
<rect x="168.9" y="1590.1" width="37.2" height="29.2" fill="#fff" stroke="#555" stroke-width="1.8"/>
<path d="M226.5 1468.81V1416.58M216.5 1416.58H236.5" stroke="#555" stroke-width="1.5" fill="none"/>
<rect x="207.9" y="1469.71" width="37.2" height="149.59" fill="#9c9c9c" stroke="#555" stroke-width="1.8"/>
<path d="M148.5 1467.04V1374.97M138.5 1374.97H158.5" stroke="#555" stroke-width="1.5" fill="none"/>
<rect x="129" y="1467.04" width="39" height="152.26" fill="#000"/>
<text x="135" y="1363" font-size="27.5" text-anchor="start" fill="#141414" letter-spacing="0.3" stroke="#141414" stroke-width="0.35">a,c</text>
<path d="M110 1263.25V1621.25M100 1619.3H265.7" stroke="#111" stroke-width="3.9" fill="none"/>
<path d="M99.7 1619.3H110" stroke="#111" stroke-width="3.9"/>
<text x="94.7" y="1625.56" font-size="23.2" text-anchor="end" fill="#141414" letter-spacing="0.5" stroke="#141414" stroke-width="0.45">0</text>
<path d="M99.7 1442.25H110" stroke="#111" stroke-width="3.9"/>
<text x="94.7" y="1448.51" font-size="23.2" text-anchor="end" fill="#141414" letter-spacing="0.5" stroke="#141414" stroke-width="0.45">10</text>
<path d="M99.7 1265.2H110" stroke="#111" stroke-width="3.9"/>
<text x="94.7" y="1271.46" font-size="23.2" text-anchor="end" fill="#141414" letter-spacing="0.5" stroke="#141414" stroke-width="0.45">20</text>
<path d="M186.7 1619.3V1630.8" stroke="#111" stroke-width="3.6"/>
<text x="195" y="1658.8" font-size="28.3" text-anchor="end" transform="rotate(-45 195 1658.8)" fill="#141414" letter-spacing="0.6" stroke="#141414" stroke-width="0.35">C2</text>
</g>
<g>
<text x="570.8" y="1237.6" font-size="26" text-anchor="start" font-weight="bold" fill="#000">F</text>
<path d="M578.35 1603.56V1594.99M574.95 1594.99H581.75" stroke="#333" stroke-width="1.3" fill="none"/>
<rect x="573" y="1604.31" width="10.7" height="8.39" fill="#fff" stroke="#111" stroke-width="1.5"/>
<path d="M590.55 1532.74V1498.47M587.15 1498.47H593.95" stroke="#333" stroke-width="1.3" fill="none"/>
<rect x="585.2" y="1533.49" width="10.7" height="79.21" fill="#bababa" stroke="#111" stroke-width="1.5"/>
<path d="M566.15 1521.31V1464.2M562.75 1464.2H569.55" stroke="#333" stroke-width="1.3" fill="none"/>
<rect x="560.05" y="1521.31" width="13.2" height="91.39" fill="#000"/>
<text x="561.7" y="1454" font-size="22" text-anchor="start" fill="#141414" letter-spacing="0.3" stroke="#141414" stroke-width="0.35">a,c</text>
<rect x="621.3" y="1609.5" width="9.2" height="2" fill="#1a1a1a"/>
<path d="M638.1 1555.58V1521.31M634.7 1521.31H641.5" stroke="#333" stroke-width="1.3" fill="none"/>
<rect x="632.75" y="1556.33" width="10.7" height="56.37" fill="#bababa" stroke="#111" stroke-width="1.5"/>
<path d="M613.7 1532.74V1464.2M610.3 1464.2H617.1" stroke="#333" stroke-width="1.3" fill="none"/>
<rect x="607.6" y="1532.74" width="13.2" height="79.96" fill="#000"/>
<text x="611.7" y="1456.7" font-size="22" text-anchor="start" fill="#141414" letter-spacing="0.3" stroke="#141414" stroke-width="0.35">a,c</text>
<rect x="668.85" y="1609.5" width="9.2" height="2" fill="#1a1a1a"/>
<path d="M685.65 1578.43V1567.01M682.25 1567.01H689.05" stroke="#333" stroke-width="1.3" fill="none"/>
<rect x="680.3" y="1579.18" width="10.7" height="33.52" fill="#bababa" stroke="#111" stroke-width="1.5"/>
<path d="M661.25 1567.01V1532.74M657.85 1532.74H664.65" stroke="#333" stroke-width="1.3" fill="none"/>
<rect x="655.15" y="1567.01" width="13.2" height="45.69" fill="#000"/>
<text x="659.3" y="1520" font-size="22" text-anchor="start" fill="#141414" letter-spacing="0.3" stroke="#141414" stroke-width="0.35">a,c</text>
<path d="M733.2 1606.99V1601.62M729.8 1601.62H736.6" stroke="#333" stroke-width="1.3" fill="none"/>
<rect x="727.85" y="1607.74" width="10.7" height="4.96" fill="#bababa" stroke="#111" stroke-width="1.5"/>
<path d="M708.8 1589.85V1578.43M705.4 1578.43H712.2" stroke="#333" stroke-width="1.3" fill="none"/>
<rect x="702.7" y="1589.85" width="13.2" height="22.85" fill="#000"/>
<text x="703.3" y="1570.7" font-size="22" text-anchor="start" fill="#141414" letter-spacing="0.3" stroke="#141414" stroke-width="0.35">a,c</text>
<rect x="763.95" y="1609.5" width="9.2" height="2" fill="#1a1a1a"/>
<path d="M780.75 1604.02V1598.99M777.35 1598.99H784.15" stroke="#333" stroke-width="1.3" fill="none"/>
<rect x="775.4" y="1604.77" width="10.7" height="7.93" fill="#bababa" stroke="#111" stroke-width="1.5"/>
<path d="M756.35 1578.43V1555.58M752.95 1555.58H759.75" stroke="#333" stroke-width="1.3" fill="none"/>
<rect x="750.25" y="1578.43" width="13.2" height="34.27" fill="#000"/>
<text x="751.7" y="1545" font-size="22" text-anchor="start" fill="#141414" letter-spacing="0.3" stroke="#141414" stroke-width="0.35">a,c</text>
<path d="M828.3 1606.99V1604.7M824.9 1604.7H831.7" stroke="#333" stroke-width="1.3" fill="none"/>
<rect x="822.95" y="1607.74" width="10.7" height="4.96" fill="#bababa" stroke="#111" stroke-width="1.5"/>
<path d="M803.9 1578.43V1567.01M800.5 1567.01H807.3" stroke="#333" stroke-width="1.3" fill="none"/>
<rect x="797.8" y="1578.43" width="13.2" height="34.27" fill="#000"/>
<text x="798.3" y="1555" font-size="22" text-anchor="start" fill="#141414" letter-spacing="0.3" stroke="#141414" stroke-width="0.35">a,c</text>
<rect x="871.25" y="1609.5" width="9.2" height="2" fill="#1a1a1a"/>
<path d="M851.45 1589.85V1578.43M848.05 1578.43H854.85" stroke="#333" stroke-width="1.3" fill="none"/>
<rect x="845.35" y="1589.85" width="13.2" height="22.85" fill="#000"/>
<text x="847.3" y="1568.3" font-size="22" text-anchor="start" fill="#141414" letter-spacing="0.3" stroke="#141414" stroke-width="0.35">a,c</text>
<rect x="918.8" y="1609.5" width="9.2" height="2" fill="#1a1a1a"/>
<path d="M899 1567.01V1544.16M895.6 1544.16H902.4" stroke="#333" stroke-width="1.3" fill="none"/>
<rect x="892.9" y="1567.01" width="13.2" height="45.69" fill="#000"/>
<text x="895" y="1532.7" font-size="22" text-anchor="start" fill="#141414" letter-spacing="0.3" stroke="#141414" stroke-width="0.35">a,c</text>
<rect x="965.6" y="1608.88" width="10.7" height="3.82" fill="#bababa" stroke="#111" stroke-width="1.5"/>
<path d="M946.55 1578.43V1555.58M943.15 1555.58H949.95" stroke="#333" stroke-width="1.3" fill="none"/>
<rect x="940.45" y="1578.43" width="13.2" height="34.27" fill="#000"/>
<text x="943.3" y="1541.7" font-size="22" text-anchor="start" fill="#141414" letter-spacing="0.3" stroke="#141414" stroke-width="0.35">a,c</text>
<rect x="1013.9" y="1609.5" width="9.2" height="2" fill="#1a1a1a"/>
<path d="M994.1 1604.7V1598.99M990.7 1598.99H997.5" stroke="#333" stroke-width="1.3" fill="none"/>
<rect x="988" y="1604.7" width="13.2" height="8" fill="#000"/>
<text x="989.3" y="1585" font-size="22" text-anchor="start" fill="#141414" letter-spacing="0.3" stroke="#141414" stroke-width="0.35">a,c</text>
<path d="M1053.85 1603.56V1601.28M1050.45 1601.28H1057.25" stroke="#333" stroke-width="1.3" fill="none"/>
<rect x="1048.5" y="1604.31" width="10.7" height="8.39" fill="#fff" stroke="#111" stroke-width="1.5"/>
<path d="M1066.05 1591V1581.86M1062.65 1581.86H1069.45" stroke="#333" stroke-width="1.3" fill="none"/>
<rect x="1060.7" y="1591.75" width="10.7" height="20.95" fill="#bababa" stroke="#111" stroke-width="1.5"/>
<path d="M1041.65 1521.31V1464.2M1038.25 1464.2H1045.05" stroke="#333" stroke-width="1.3" fill="none"/>
<rect x="1035.55" y="1521.31" width="13.2" height="91.39" fill="#000"/>
<path d="M1101.4 1521.31V1464.2M1098 1464.2H1104.8" stroke="#333" stroke-width="1.3" fill="none"/>
<rect x="1096.05" y="1522.06" width="10.7" height="90.64" fill="#fff" stroke="#111" stroke-width="1.5"/>
<path d="M1113.6 1591V1581.86M1110.2 1581.86H1117" stroke="#333" stroke-width="1.3" fill="none"/>
<rect x="1108.25" y="1591.75" width="10.7" height="20.95" fill="#bababa" stroke="#111" stroke-width="1.5"/>
<path d="M1089.2 1475.62V1372.81M1085.8 1372.81H1092.6" stroke="#333" stroke-width="1.3" fill="none"/>
<rect x="1083.1" y="1475.62" width="13.2" height="137.08" fill="#000"/>
<text x="1084.3" y="1366" font-size="22" text-anchor="start" fill="#141414" letter-spacing="0.3" stroke="#141414" stroke-width="0.35">c</text>
<path d="M1161.15 1604.02V1596.71M1157.75 1596.71H1164.55" stroke="#333" stroke-width="1.3" fill="none"/>
<rect x="1155.8" y="1604.77" width="10.7" height="7.93" fill="#bababa" stroke="#111" stroke-width="1.5"/>
<path d="M1136.75 1555.58V1521.31M1133.35 1521.31H1140.15" stroke="#333" stroke-width="1.3" fill="none"/>
<rect x="1130.65" y="1555.58" width="13.2" height="57.12" fill="#000"/>
<text x="1132.3" y="1508" font-size="22" text-anchor="start" fill="#141414" letter-spacing="0.3" stroke="#141414" stroke-width="0.35">a,c</text>
<rect x="1203.35" y="1608.88" width="10.7" height="3.82" fill="#bababa" stroke="#111" stroke-width="1.5"/>
<path d="M1184.3 1591V1578.43M1180.9 1578.43H1187.7" stroke="#333" stroke-width="1.3" fill="none"/>
<rect x="1178.2" y="1591" width="13.2" height="21.7" fill="#000"/>
<text x="1178.3" y="1567" font-size="22" text-anchor="start" fill="#141414" letter-spacing="0.3" stroke="#141414" stroke-width="0.35">a,c</text>
<rect x="1251.65" y="1609.5" width="9.2" height="2" fill="#1a1a1a"/>
<path d="M1231.85 1591V1578.43M1228.45 1578.43H1235.25" stroke="#333" stroke-width="1.3" fill="none"/>
<rect x="1225.75" y="1591" width="13.2" height="21.7" fill="#000"/>
<text x="1226.7" y="1567" font-size="22" text-anchor="start" fill="#141414" letter-spacing="0.3" stroke="#141414" stroke-width="0.35">a,c</text>
<rect x="1298.45" y="1608.88" width="10.7" height="3.82" fill="#bababa" stroke="#111" stroke-width="1.5"/>
<path d="M1279.4 1591V1578.43M1276 1578.43H1282.8" stroke="#333" stroke-width="1.3" fill="none"/>
<rect x="1273.3" y="1591" width="13.2" height="21.7" fill="#000"/>
<text x="1274" y="1567" font-size="22" text-anchor="start" fill="#141414" letter-spacing="0.3" stroke="#141414" stroke-width="0.35">a,c</text>
<path d="M554 1268.4V1614.3M545.5 1612.7H1316" stroke="#111" stroke-width="3.2" fill="none"/>
<path d="M545.3 1612.7H554" stroke="#111" stroke-width="3.2"/>
<text x="0" y="0" font-size="28" text-anchor="end" fill="#141414" letter-spacing="0.2" transform="translate(540.3 1621.6) scale(0.9 1)" stroke="#141414" stroke-width="0.35">0.0</text>
<path d="M545.3 1498.47H554" stroke="#111" stroke-width="3.2"/>
<text x="0" y="0" font-size="28" text-anchor="end" fill="#141414" letter-spacing="0.2" transform="translate(540.3 1507.37) scale(0.9 1)" stroke="#141414" stroke-width="0.35">0.1</text>
<path d="M545.3 1384.23H554" stroke="#111" stroke-width="3.2"/>
<text x="0" y="0" font-size="28" text-anchor="end" fill="#141414" letter-spacing="0.2" transform="translate(540.3 1393.13) scale(0.9 1)" stroke="#141414" stroke-width="0.35">0.2</text>
<path d="M545.3 1270H554" stroke="#111" stroke-width="3.2"/>
<text x="0" y="0" font-size="28" text-anchor="end" fill="#141414" letter-spacing="0.2" transform="translate(540.3 1278.9) scale(0.9 1)" stroke="#141414" stroke-width="0.35">0.3</text>
<path d="M576.7 1612.7V1624.2" stroke="#111" stroke-width="2.9"/>
<text x="586.2" y="1651.5" font-size="26.3" text-anchor="end" transform="rotate(-45 586.2 1651.5)" fill="#141414" letter-spacing="0.3" stroke="#141414" stroke-width="0.35">C3</text>
<path d="M624.25 1612.7V1624.2" stroke="#111" stroke-width="2.9"/>
<text x="633.75" y="1651.5" font-size="26.3" text-anchor="end" transform="rotate(-45 633.75 1651.5)" fill="#141414" letter-spacing="0.3" stroke="#141414" stroke-width="0.35">C4</text>
<path d="M671.8 1612.7V1624.2" stroke="#111" stroke-width="2.9"/>
<text x="681.3" y="1651.5" font-size="26.3" text-anchor="end" transform="rotate(-45 681.3 1651.5)" fill="#141414" letter-spacing="0.3" stroke="#141414" stroke-width="0.35">C5</text>
<path d="M719.35 1612.7V1624.2" stroke="#111" stroke-width="2.9"/>
<text x="728.85" y="1651.5" font-size="26.3" text-anchor="end" transform="rotate(-45 728.85 1651.5)" fill="#141414" letter-spacing="0.3" stroke="#141414" stroke-width="0.35">C6</text>
<path d="M766.9 1612.7V1624.2" stroke="#111" stroke-width="2.9"/>
<text x="776.4" y="1651.5" font-size="26.3" text-anchor="end" transform="rotate(-45 776.4 1651.5)" fill="#141414" letter-spacing="0.3" stroke="#141414" stroke-width="0.35">C8</text>
<path d="M814.45 1612.7V1624.2" stroke="#111" stroke-width="2.9"/>
<text x="823.95" y="1651.5" font-size="26.3" text-anchor="end" transform="rotate(-45 823.95 1651.5)" fill="#141414" letter-spacing="0.3" stroke="#141414" stroke-width="0.35">C10</text>
<path d="M862 1612.7V1624.2" stroke="#111" stroke-width="2.9"/>
<text x="871.5" y="1651.5" font-size="26.3" text-anchor="end" transform="rotate(-45 871.5 1651.5)" fill="#141414" letter-spacing="0.3" stroke="#141414" stroke-width="0.35">C12</text>
<path d="M909.55 1612.7V1624.2" stroke="#111" stroke-width="2.9"/>
<text x="919.05" y="1651.5" font-size="26.3" text-anchor="end" transform="rotate(-45 919.05 1651.5)" fill="#141414" letter-spacing="0.3" stroke="#141414" stroke-width="0.35">C14</text>
<path d="M957.1 1612.7V1624.2" stroke="#111" stroke-width="2.9"/>
<text x="966.6" y="1651.5" font-size="26.3" text-anchor="end" transform="rotate(-45 966.6 1651.5)" fill="#141414" letter-spacing="0.3" stroke="#141414" stroke-width="0.35">C16</text>
<path d="M1004.65 1612.7V1624.2" stroke="#111" stroke-width="2.9"/>
<text x="1014.15" y="1651.5" font-size="26.3" text-anchor="end" transform="rotate(-45 1014.15 1651.5)" fill="#141414" letter-spacing="0.3" stroke="#141414" stroke-width="0.35">C18</text>
<path d="M1052.2 1612.7V1624.2" stroke="#111" stroke-width="2.9"/>
<text x="1061.7" y="1651.5" font-size="26.3" text-anchor="end" transform="rotate(-45 1061.7 1651.5)" fill="#141414" letter-spacing="0.3" stroke="#141414" stroke-width="0.35">C3DC</text>
<path d="M1099.75 1612.7V1624.2" stroke="#111" stroke-width="2.9"/>
<text x="1109.25" y="1651.5" font-size="26.3" text-anchor="end" transform="rotate(-45 1109.25 1651.5)" fill="#141414" letter-spacing="0.3" stroke="#141414" stroke-width="0.35">C4DC</text>
<path d="M1147.3 1612.7V1624.2" stroke="#111" stroke-width="2.9"/>
<text x="1156.8" y="1651.5" font-size="26.3" text-anchor="end" transform="rotate(-45 1156.8 1651.5)" fill="#141414" letter-spacing="0.3" stroke="#141414" stroke-width="0.35">C5DC</text>
<path d="M1194.85 1612.7V1624.2" stroke="#111" stroke-width="2.9"/>
<text x="1204.35" y="1651.5" font-size="26.3" text-anchor="end" transform="rotate(-45 1204.35 1651.5)" fill="#141414" letter-spacing="0.3" stroke="#141414" stroke-width="0.35">C6DC</text>
<path d="M1242.4 1612.7V1624.2" stroke="#111" stroke-width="2.9"/>
<text x="1251.9" y="1651.5" font-size="26.3" text-anchor="end" transform="rotate(-45 1251.9 1651.5)" fill="#141414" letter-spacing="0.3" stroke="#141414" stroke-width="0.35">C8DC</text>
<path d="M1289.95 1612.7V1624.2" stroke="#111" stroke-width="2.9"/>
<text x="1299.45" y="1651.5" font-size="26.3" text-anchor="end" transform="rotate(-45 1299.45 1651.5)" fill="#141414" letter-spacing="0.3" stroke="#141414" stroke-width="0.35">C10DC</text>
</g>
<g>
<text x="93.3" y="1775" font-size="27" text-anchor="start" font-weight="bold" fill="#000">G</text>
<text x="33.2" y="2097.5" font-size="31" text-anchor="start" font-weight="bold" transform="rotate(-90 33.2 2097.5)" fill="#000" textLength="213" lengthAdjust="spacingAndGlyphs">nmol / mg proteins</text>
<rect x="133.15" y="2157.05" width="9.5" height="2" fill="#1a1a1a"/>
<path d="M150.4 2143.87V2043.49M147 2043.49H153.8" stroke="#333" stroke-width="1.3" fill="none"/>
<rect x="144.9" y="2144.62" width="11" height="15.98" fill="#bababa" stroke="#111" stroke-width="1.5"/>
<path d="M125.4 2093.68V2060.22M122 2060.22H128.8" stroke="#333" stroke-width="1.3" fill="none"/>
<rect x="119.15" y="2093.68" width="13.5" height="66.92" fill="#000"/>
<text x="120.7" y="2051.7" font-size="22.5" text-anchor="start" fill="#141414" letter-spacing="0.3" stroke="#141414" stroke-width="0.35">a,c</text>
<rect x="183.71" y="2157.05" width="9.5" height="2" fill="#1a1a1a"/>
<path d="M200.96 2148.22V2143.87M197.56 2143.87H204.36" stroke="#333" stroke-width="1.3" fill="none"/>
<rect x="195.46" y="2148.97" width="11" height="11.63" fill="#bababa" stroke="#111" stroke-width="1.5"/>
<path d="M175.96 2127.14V2100.37M172.56 2100.37H179.36" stroke="#333" stroke-width="1.3" fill="none"/>
<rect x="169.71" y="2127.14" width="13.5" height="33.46" fill="#000"/>
<text x="171" y="2090.7" font-size="22.5" text-anchor="start" fill="#141414" letter-spacing="0.3" stroke="#141414" stroke-width="0.35">a,c</text>
<rect x="234.27" y="2157.05" width="9.5" height="2" fill="#1a1a1a"/>
<path d="M251.52 2150.56V2148.55M248.12 2148.55H254.92" stroke="#333" stroke-width="1.3" fill="none"/>
<rect x="246.02" y="2151.31" width="11" height="9.29" fill="#bababa" stroke="#111" stroke-width="1.5"/>
<path d="M226.52 2093.68V2060.22M223.12 2060.22H229.92" stroke="#333" stroke-width="1.3" fill="none"/>
<rect x="220.27" y="2093.68" width="13.5" height="66.92" fill="#000"/>
<text x="221.7" y="2052.7" font-size="22.5" text-anchor="start" fill="#141414" letter-spacing="0.3" stroke="#141414" stroke-width="0.35">a,c</text>
<rect x="284.83" y="2157.05" width="9.5" height="2" fill="#1a1a1a"/>
<path d="M302.08 2143.87V2137.18M298.68 2137.18H305.48" stroke="#333" stroke-width="1.3" fill="none"/>
<rect x="296.58" y="2144.62" width="11" height="15.98" fill="#bababa" stroke="#111" stroke-width="1.5"/>
<path d="M277.08 2093.68V2060.22M273.68 2060.22H280.48" stroke="#333" stroke-width="1.3" fill="none"/>
<rect x="270.83" y="2093.68" width="13.5" height="66.92" fill="#000"/>
<text x="271.7" y="2051.7" font-size="22.5" text-anchor="start" fill="#141414" letter-spacing="0.3" stroke="#141414" stroke-width="0.35">a,c</text>
<rect x="335.39" y="2157.05" width="9.5" height="2" fill="#1a1a1a"/>
<path d="M352.64 2150.56V2148.55M349.24 2148.55H356.04" stroke="#333" stroke-width="1.3" fill="none"/>
<rect x="347.14" y="2151.31" width="11" height="9.29" fill="#bababa" stroke="#111" stroke-width="1.5"/>
<path d="M327.64 2093.68V2066.91M324.24 2066.91H331.04" stroke="#333" stroke-width="1.3" fill="none"/>
<rect x="321.39" y="2093.68" width="13.5" height="66.92" fill="#000"/>
<text x="325" y="2058.3" font-size="22.5" text-anchor="start" fill="#141414" letter-spacing="0.3" stroke="#141414" stroke-width="0.35">a,c</text>
<path d="M403.2 2127.14V2117.1M399.8 2117.1H406.6" stroke="#333" stroke-width="1.3" fill="none"/>
<rect x="397.7" y="2127.89" width="11" height="32.71" fill="#bababa" stroke="#111" stroke-width="1.5"/>
<path d="M378.2 2127.14V2100.37M374.8 2100.37H381.6" stroke="#333" stroke-width="1.3" fill="none"/>
<rect x="371.95" y="2127.14" width="13.5" height="33.46" fill="#000"/>
<text x="373.3" y="2091.7" font-size="22.5" text-anchor="start" fill="#141414" letter-spacing="0.3" stroke="#141414" stroke-width="0.35">a,b,c</text>
<path d="M453.76 2150.56V2148.55M450.36 2148.55H457.16" stroke="#333" stroke-width="1.3" fill="none"/>
<rect x="448.26" y="2151.31" width="11" height="9.29" fill="#bababa" stroke="#111" stroke-width="1.5"/>
<path d="M428.76 2133.83V2123.79M425.36 2123.79H432.16" stroke="#333" stroke-width="1.3" fill="none"/>
<rect x="422.51" y="2133.83" width="13.5" height="26.77" fill="#000"/>
<text x="423.3" y="2114.3" font-size="22.5" text-anchor="start" fill="#141414" letter-spacing="0.3" stroke="#141414" stroke-width="0.35">a,c</text>
<path d="M504.32 2153.91V2150.56M500.92 2150.56H507.72" stroke="#333" stroke-width="1.3" fill="none"/>
<rect x="498.82" y="2154.66" width="11" height="5.94" fill="#bababa" stroke="#111" stroke-width="1.5"/>
<path d="M479.32 2137.18V2127.14M475.92 2127.14H482.72" stroke="#333" stroke-width="1.3" fill="none"/>
<rect x="473.07" y="2137.18" width="13.5" height="23.42" fill="#000"/>
<text x="473.3" y="2116" font-size="22.5" text-anchor="start" fill="#141414" letter-spacing="0.3" stroke="#141414" stroke-width="0.35">a,c</text>
<rect x="537.63" y="2157.05" width="9.5" height="2" fill="#1a1a1a"/>
<path d="M554.88 2148.22V2143.87M551.48 2143.87H558.28" stroke="#333" stroke-width="1.3" fill="none"/>
<rect x="549.38" y="2148.97" width="11" height="11.63" fill="#bababa" stroke="#111" stroke-width="1.5"/>
<path d="M529.88 2093.68V2060.22M526.48 2060.22H533.28" stroke="#333" stroke-width="1.3" fill="none"/>
<rect x="523.63" y="2093.68" width="13.5" height="66.92" fill="#000"/>
<text x="525" y="2052.7" font-size="22.5" text-anchor="start" fill="#141414" letter-spacing="0.3" stroke="#141414" stroke-width="0.35">a,b,c</text>
<rect x="588.19" y="2157.05" width="9.5" height="2" fill="#1a1a1a"/>
<path d="M605.44 2140.52V2133.83M602.04 2133.83H608.84" stroke="#333" stroke-width="1.3" fill="none"/>
<rect x="599.94" y="2141.27" width="11" height="19.33" fill="#bababa" stroke="#111" stroke-width="1.5"/>
<path d="M580.44 1993.3V1892.92M577.04 1892.92H583.84" stroke="#333" stroke-width="1.3" fill="none"/>
<rect x="574.19" y="1993.3" width="13.5" height="167.3" fill="#000"/>
<text x="576" y="1886" font-size="22.5" text-anchor="start" fill="#141414" letter-spacing="0.3" stroke="#141414" stroke-width="0.35">a,c</text>
<rect x="650.5" y="2154.66" width="11" height="5.94" fill="#bababa" stroke="#111" stroke-width="1.5"/>
<path d="M631 2127.14V2103.72M627.6 2103.72H634.4" stroke="#333" stroke-width="1.3" fill="none"/>
<rect x="624.75" y="2127.14" width="13.5" height="33.46" fill="#000"/>
<text x="625.7" y="2096" font-size="22.5" text-anchor="start" fill="#141414" letter-spacing="0.3" stroke="#141414" stroke-width="0.35">a,c</text>
<path d="M113.1 1824.05V2162.55M103.1 2160.6H668.3" stroke="#111" stroke-width="3.9" fill="none"/>
<path d="M102.1 2160.6H113.1" stroke="#111" stroke-width="3.9"/>
<text x="100.1" y="2168.57" font-size="29.5" text-anchor="end" fill="#141414" letter-spacing="0.3" stroke="#141414" stroke-width="0.35">0.00</text>
<path d="M102.1 1993.3H113.1" stroke="#111" stroke-width="3.9"/>
<text x="100.1" y="2001.26" font-size="29.5" text-anchor="end" fill="#141414" letter-spacing="0.3" stroke="#141414" stroke-width="0.35">0.05</text>
<path d="M102.1 1826H113.1" stroke="#111" stroke-width="3.9"/>
<text x="100.1" y="1833.96" font-size="29.5" text-anchor="end" fill="#141414" letter-spacing="0.3" stroke="#141414" stroke-width="0.35">0.10</text>
<path d="M136.7 2160.6V2171.6" stroke="#111" stroke-width="3.6"/>
<text x="144.2" y="2197.2" font-size="28" text-anchor="end" transform="rotate(-45 144.2 2197.2)" fill="#141414" letter-spacing="0.4" stroke="#141414" stroke-width="0.35">C5:1</text>
<path d="M187.26 2160.6V2171.6" stroke="#111" stroke-width="3.6"/>
<text x="194.76" y="2197.2" font-size="28" text-anchor="end" transform="rotate(-45 194.76 2197.2)" fill="#141414" letter-spacing="0.4" stroke="#141414" stroke-width="0.35">C6:1</text>
<path d="M237.82 2160.6V2171.6" stroke="#111" stroke-width="3.6"/>
<text x="245.32" y="2197.2" font-size="28" text-anchor="end" transform="rotate(-45 245.32 2197.2)" fill="#141414" letter-spacing="0.4" stroke="#141414" stroke-width="0.35">C8:1</text>
<path d="M288.38 2160.6V2171.6" stroke="#111" stroke-width="3.6"/>
<text x="295.88" y="2197.2" font-size="28" text-anchor="end" transform="rotate(-45 295.88 2197.2)" fill="#141414" letter-spacing="0.4" stroke="#141414" stroke-width="0.35">C10:1</text>
<path d="M338.94 2160.6V2171.6" stroke="#111" stroke-width="3.6"/>
<text x="346.44" y="2197.2" font-size="28" text-anchor="end" transform="rotate(-45 346.44 2197.2)" fill="#141414" letter-spacing="0.4" stroke="#141414" stroke-width="0.35">C12:1</text>
<path d="M389.5 2160.6V2171.6" stroke="#111" stroke-width="3.6"/>
<text x="397" y="2197.2" font-size="28" text-anchor="end" transform="rotate(-45 397 2197.2)" fill="#141414" letter-spacing="0.4" stroke="#141414" stroke-width="0.35">C14:1</text>
<path d="M440.06 2160.6V2171.6" stroke="#111" stroke-width="3.6"/>
<text x="447.56" y="2197.2" font-size="28" text-anchor="end" transform="rotate(-45 447.56 2197.2)" fill="#141414" letter-spacing="0.4" stroke="#141414" stroke-width="0.35">C16:1</text>
<path d="M490.62 2160.6V2171.6" stroke="#111" stroke-width="3.6"/>
<text x="498.12" y="2197.2" font-size="28" text-anchor="end" transform="rotate(-45 498.12 2197.2)" fill="#141414" letter-spacing="0.4" stroke="#141414" stroke-width="0.35">C18:1</text>
<path d="M541.18 2160.6V2171.6" stroke="#111" stroke-width="3.6"/>
<text x="548.68" y="2197.2" font-size="28" text-anchor="end" transform="rotate(-45 548.68 2197.2)" fill="#141414" letter-spacing="0.4" stroke="#141414" stroke-width="0.35">C10:2</text>
<path d="M591.74 2160.6V2171.6" stroke="#111" stroke-width="3.6"/>
<text x="599.24" y="2197.2" font-size="28" text-anchor="end" transform="rotate(-45 599.24 2197.2)" fill="#141414" letter-spacing="0.4" stroke="#141414" stroke-width="0.35">C14:2</text>
<path d="M642.3 2160.6V2171.6" stroke="#111" stroke-width="3.6"/>
<text x="649.8" y="2197.2" font-size="28" text-anchor="end" transform="rotate(-45 649.8 2197.2)" fill="#141414" letter-spacing="0.4" stroke="#141414" stroke-width="0.35">C18:2</text>
</g>
<g>
<text x="838.4" y="1796.2" font-size="26" text-anchor="start" font-weight="bold" fill="#000">H</text>
<path d="M874.6 2105.57V2074.82M871.2 2074.82H878" stroke="#333" stroke-width="1.3" fill="none"/>
<rect x="868.85" y="2106.32" width="11.5" height="45.38" fill="#fff" stroke="#111" stroke-width="1.5"/>
<path d="M887.6 2120.95V2105.57M884.2 2105.57H891" stroke="#333" stroke-width="1.3" fill="none"/>
<rect x="881.85" y="2121.7" width="11.5" height="30" fill="#bababa" stroke="#111" stroke-width="1.5"/>
<path d="M861.6 2059.45V1997.95M858.2 1997.95H865" stroke="#333" stroke-width="1.3" fill="none"/>
<rect x="855.1" y="2059.45" width="14" height="92.25" fill="#000"/>
<text x="858.3" y="1990" font-size="22" text-anchor="start" fill="#141414" letter-spacing="0.3" stroke="#141414" stroke-width="0.35">b</text>
<path d="M925.93 2141.71V2140.63M922.53 2140.63H929.33" stroke="#333" stroke-width="1.3" fill="none"/>
<rect x="920.18" y="2142.46" width="11.5" height="9.24" fill="#fff" stroke="#111" stroke-width="1.5"/>
<path d="M938.93 2074.82V2028.7M935.53 2028.7H942.33" stroke="#333" stroke-width="1.3" fill="none"/>
<rect x="933.18" y="2075.57" width="11.5" height="76.12" fill="#bababa" stroke="#111" stroke-width="1.5"/>
<path d="M912.93 2013.32V1951.83M909.53 1951.83H916.33" stroke="#333" stroke-width="1.3" fill="none"/>
<rect x="906.43" y="2013.32" width="14" height="138.38" fill="#000"/>
<text x="908.3" y="1942.7" font-size="22" text-anchor="start" fill="#141414" letter-spacing="0.3" stroke="#141414" stroke-width="0.35">a,c</text>
<rect x="971.51" y="2146.76" width="11.5" height="4.94" fill="#fff" stroke="#111" stroke-width="1.5"/>
<path d="M990.26 2120.95V2105.57M986.86 2105.57H993.66" stroke="#333" stroke-width="1.3" fill="none"/>
<rect x="984.51" y="2121.7" width="11.5" height="30" fill="#bababa" stroke="#111" stroke-width="1.5"/>
<path d="M964.26 2044.07V1967.2M960.86 1967.2H967.66" stroke="#333" stroke-width="1.3" fill="none"/>
<rect x="957.76" y="2044.07" width="14" height="107.62" fill="#000"/>
<text x="960" y="1959.3" font-size="22" text-anchor="start" fill="#141414" letter-spacing="0.3" stroke="#141414" stroke-width="0.35">a,c</text>
<path d="M1041.59 2142.47V2141.55M1038.19 2141.55H1044.99" stroke="#333" stroke-width="1.3" fill="none"/>
<rect x="1035.84" y="2143.22" width="11.5" height="8.47" fill="#bababa" stroke="#111" stroke-width="1.5"/>
<path d="M1015.59 2090.2V2059.45M1012.19 2059.45H1018.99" stroke="#333" stroke-width="1.3" fill="none"/>
<rect x="1009.09" y="2090.2" width="14" height="61.5" fill="#000"/>
<text x="1011.7" y="2050.7" font-size="22" text-anchor="start" fill="#141414" letter-spacing="0.3" stroke="#141414" stroke-width="0.35">a,c</text>
<rect x="1087.17" y="2146.3" width="11.5" height="5.4" fill="#bababa" stroke="#111" stroke-width="1.5"/>
<path d="M1066.92 2137.4V2128.64M1063.52 2128.64H1070.32" stroke="#333" stroke-width="1.3" fill="none"/>
<rect x="1060.42" y="2137.4" width="14" height="14.3" fill="#000"/>
<text x="1062.7" y="2126" font-size="22" text-anchor="start" fill="#141414" letter-spacing="0.3" stroke="#141414" stroke-width="0.35">a,c</text>
<rect x="1138.5" y="2143.22" width="11.5" height="8.47" fill="#bababa" stroke="#111" stroke-width="1.5"/>
<path d="M1118.25 2142.47V2136.32M1114.85 2136.32H1121.65" stroke="#333" stroke-width="1.3" fill="none"/>
<rect x="1111.75" y="2142.47" width="14" height="9.22" fill="#000"/>
<text x="1113.3" y="2131.7" font-size="22" text-anchor="start" fill="#141414" letter-spacing="0.3" stroke="#141414" stroke-width="0.35">a,c</text>
<rect x="1190.58" y="2148.4" width="10" height="2" fill="#1a1a1a"/>
<path d="M1169.58 2141.71V2134.79M1166.18 2134.79H1172.98" stroke="#333" stroke-width="1.3" fill="none"/>
<rect x="1163.08" y="2141.71" width="14" height="9.99" fill="#000"/>
<text x="1163.3" y="2131.7" font-size="22" text-anchor="start" fill="#141414" letter-spacing="0.3" stroke="#141414" stroke-width="0.35">a,c</text>
<path d="M1246.91 2141.71V2134.79M1243.51 2134.79H1250.31" stroke="#333" stroke-width="1.3" fill="none"/>
<rect x="1241.16" y="2142.46" width="11.5" height="9.24" fill="#bababa" stroke="#111" stroke-width="1.5"/>
<path d="M1220.91 2142.47V2136.32M1217.51 2136.32H1224.31" stroke="#333" stroke-width="1.3" fill="none"/>
<rect x="1214.41" y="2142.47" width="14" height="9.22" fill="#000"/>
<text x="1216" y="2131.7" font-size="22" text-anchor="start" fill="#141414" letter-spacing="0.3" stroke="#141414" stroke-width="0.35">a,c</text>
<rect x="1293.24" y="2148.4" width="10" height="2" fill="#1a1a1a"/>
<path d="M1272.24 2147.09V2141.71M1268.84 2141.71H1275.64" stroke="#333" stroke-width="1.3" fill="none"/>
<rect x="1265.74" y="2147.09" width="14" height="4.61" fill="#000"/>
<text x="1266.7" y="2131.7" font-size="22" text-anchor="start" fill="#141414" letter-spacing="0.3" stroke="#141414" stroke-width="0.35">a,c</text>
<path d="M847.7 1842.5V2153.4M837.7 2151.7H1310.7" stroke="#111" stroke-width="3.4" fill="none"/>
<path d="M839 2151.7H847.7" stroke="#111" stroke-width="3.4"/>
<text x="0" y="0" font-size="26.5" text-anchor="end" fill="#141414" letter-spacing="0.3" transform="translate(836.1 2159.8) scale(0.96 1)" stroke="#141414" stroke-width="0.35">0.0</text>
<path d="M839 1997.95H847.7" stroke="#111" stroke-width="3.4"/>
<text x="0" y="0" font-size="26.5" text-anchor="end" fill="#141414" letter-spacing="0.3" transform="translate(836.1 2006.05) scale(0.96 1)" stroke="#141414" stroke-width="0.35">0.1</text>
<path d="M839 1844.2H847.7" stroke="#111" stroke-width="3.4"/>
<text x="0" y="0" font-size="26.5" text-anchor="end" fill="#141414" letter-spacing="0.3" transform="translate(836.1 1852.3) scale(0.96 1)" stroke="#141414" stroke-width="0.35">0.2</text>
<path d="M872.7 2151.7V2161.9" stroke="#111" stroke-width="3.1"/>
<text x="879.5" y="2185.7" font-size="25.3" text-anchor="end" transform="rotate(-45 879.5 2185.7)" fill="#141414" letter-spacing="0.4" stroke="#141414" stroke-width="0.35">C4OH</text>
<path d="M924.03 2151.7V2161.9" stroke="#111" stroke-width="3.1"/>
<text x="930.83" y="2185.7" font-size="25.3" text-anchor="end" transform="rotate(-45 930.83 2185.7)" fill="#141414" letter-spacing="0.4" stroke="#141414" stroke-width="0.35">C5OH</text>
<path d="M975.36 2151.7V2161.9" stroke="#111" stroke-width="3.1"/>
<text x="982.16" y="2185.7" font-size="25.3" text-anchor="end" transform="rotate(-45 982.16 2185.7)" fill="#141414" letter-spacing="0.4" stroke="#141414" stroke-width="0.35">C6OH</text>
<path d="M1026.69 2151.7V2161.9" stroke="#111" stroke-width="3.1"/>
<text x="1033.49" y="2185.7" font-size="25.3" text-anchor="end" transform="rotate(-45 1033.49 2185.7)" fill="#141414" letter-spacing="0.4" stroke="#141414" stroke-width="0.35">C12OH</text>
<path d="M1078.02 2151.7V2161.9" stroke="#111" stroke-width="3.1"/>
<text x="1084.82" y="2185.7" font-size="25.3" text-anchor="end" transform="rotate(-45 1084.82 2185.7)" fill="#141414" letter-spacing="0.4" stroke="#141414" stroke-width="0.35">C14OH</text>
<path d="M1129.35 2151.7V2161.9" stroke="#111" stroke-width="3.1"/>
<text x="1136.15" y="2185.7" font-size="25.3" text-anchor="end" transform="rotate(-45 1136.15 2185.7)" fill="#141414" letter-spacing="0.4" stroke="#141414" stroke-width="0.35">C16OH</text>
<path d="M1180.68 2151.7V2161.9" stroke="#111" stroke-width="3.1"/>
<text x="1187.48" y="2185.7" font-size="25.3" text-anchor="end" transform="rotate(-45 1187.48 2185.7)" fill="#141414" letter-spacing="0.4" stroke="#141414" stroke-width="0.35">C18OH</text>
<path d="M1232.01 2151.7V2161.9" stroke="#111" stroke-width="3.1"/>
<text x="1238.81" y="2185.7" font-size="25.3" text-anchor="end" transform="rotate(-45 1238.81 2185.7)" fill="#141414" letter-spacing="0.4" stroke="#141414" stroke-width="0.35">C16:1OH</text>
<path d="M1283.34 2151.7V2161.9" stroke="#111" stroke-width="3.1"/>
<text x="1290.14" y="2185.7" font-size="25.3" text-anchor="end" transform="rotate(-45 1290.14 2185.7)" fill="#141414" letter-spacing="0.4" stroke="#141414" stroke-width="0.35">C18:1OH</text>
</g>
</g>
</svg>
</body>
</html>
